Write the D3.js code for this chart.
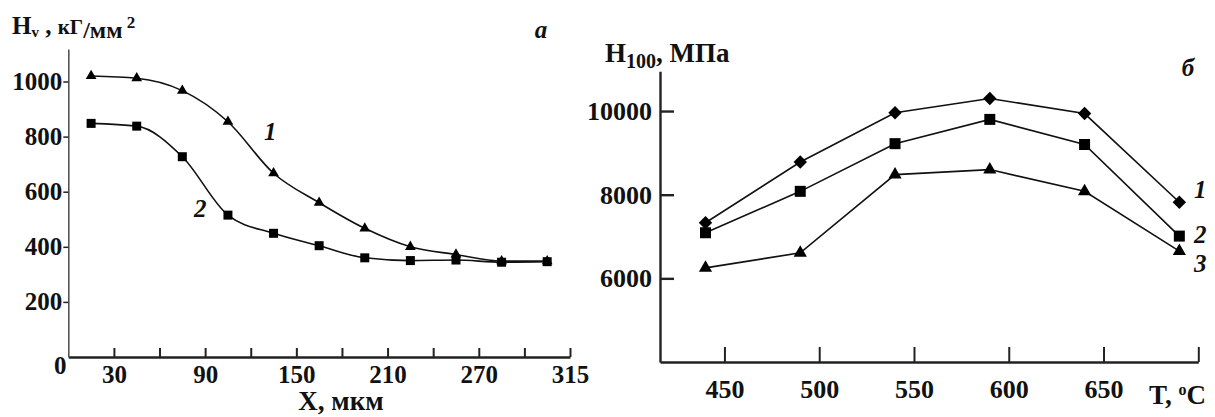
<!DOCTYPE html>
<html>
<head>
<meta charset="utf-8">
<script src="https://cdn.jsdelivr.net/npm/d3@7"></script>
<style>
  body { margin: 0; background: #fff; }
  svg text { font-family: "Liberation Serif", "Times New Roman", serif; font-weight: bold; fill: #111; }
</style>
</head>
<body>
<svg id="chart" width="1215" height="417"></svg>
<script>
// panel a: hardness vs depth
const depth = [15, 45, 75, 105, 135, 165, 195, 225, 255, 285, 315];
const hv1 = [1020, 1012, 967, 854, 667, 560, 467, 400, 372, 348, 348];
const hv2 = [848, 838, 727, 515, 449, 404, 360, 350, 352, 344, 346];
const depthTicks = [30, 60, 90, 120, 150, 180, 210, 240, 270, 300, 330];
const depthLabels = {30: "30", 90: "90", 150: "150", 210: "210", 270: "270", 330: "315"};
const hvTicks = [200, 400, 600, 800, 1000];

// panel б: hardness vs temperature
const temp = [440, 490, 540, 590, 640, 690];
const h1 = [7330, 8780, 9960, 10300, 9940, 7820];
const h2 = [7090, 8080, 9220, 9800, 9200, 7010];
const h3 = [6250, 6610, 8480, 8600, 8080, 6650];
const tempTicks = [450, 500, 550, 600, 650, 700];
const hTicks = [6000, 8000, 10000];

const svg = d3.select("svg#chart");
svg.append("rect").attr("width", 1215).attr("height", 417).attr("fill", "#fff");

function styleAxis(g, size) {
  g.selectAll("text")
    .style("font-family", '"Liberation Serif", serif')
    .style("font-weight", "bold")
    .style("font-size", size + "px")
    .attr("fill", "#111");
  g.selectAll("line").attr("stroke", "#222");
  g.select(".domain").attr("stroke", "#222");
}

// ---------- panel a ----------
const xL = d3.scaleLinear().domain([0, 330]).range([68.3, 570]);
const yL = d3.scaleLinear().domain([0, 1118]).range([357, 49]);

const axL = svg.append("g")
    .attr("transform", "translate(0," + yL(0) + ")")
    .call(d3.axisBottom(xL)
      .tickValues(depthTicks)
      .tickSizeInner(-9).tickSizeOuter(0).tickPadding(8)
      .tickFormat(d => depthLabels[d] || ""));
styleAxis(axL, 25);
axL.select(".domain").attr("stroke-width", 2.6);
axL.selectAll(".tick line").attr("stroke-width", 2);

const ayL = svg.append("g")
    .attr("transform", "translate(" + xL(0) + ",0)")
    .call(d3.axisLeft(yL)
      .tickValues(hvTicks)
      .tickSizeInner(5).tickSizeOuter(0).tickPadding(1)
      .tickFormat(d3.format("d")));
styleAxis(ayL, 25);
ayL.select(".domain").attr("stroke-width", 1.6).attr("stroke", "#555");
ayL.selectAll(".tick line").attr("stroke-width", 1.5);

svg.append("text").attr("x", xL(0) - 8).attr("y", yL(0) + 17)
  .attr("text-anchor", "middle").style("font-size", "25px").text("0");

const lineL = d3.line()
    .x((d, i) => xL(depth[i]))
    .y(d => yL(d))
    .curve(d3.curveMonotoneX);

[hv1, hv2].forEach(s => {
  svg.append("path").attr("d", lineL(s))
    .attr("fill", "none").attr("stroke", "#111").attr("stroke-width", 1.6);
});

svg.append("g").selectAll("path").data(hv1).join("path")
  .attr("transform", (d, i) => "translate(" + xL(depth[i]) + "," + yL(d) + ")")
  .attr("d", d3.symbol(d3.symbolTriangle, 50))
  .attr("fill", "#000");
svg.append("g").selectAll("path").data(hv2).join("path")
  .attr("transform", (d, i) => "translate(" + xL(depth[i]) + "," + yL(d) + ")")
  .attr("d", d3.symbol(d3.symbolSquare, 81))
  .attr("fill", "#000");

const titleL = svg.append("text").attr("x", 12).attr("y", 34).style("font-size", "25px");
titleL.append("tspan").text("H");
titleL.append("tspan").attr("dy", 3).style("font-size", "15px").text("v");
titleL.append("tspan").attr("dy", -3).text(" , ");
titleL.append("tspan").style("font-size", "21px").text("кГ");
titleL.append("tspan").attr("dy", 4).style("font-size", "24px").text("/мм");
titleL.append("tspan").attr("dy", -10).style("font-size", "17px").text(" 2");

svg.append("text").attr("x", 264).attr("y", 140).style("font-size", "25px")
  .style("font-style", "italic").text("1");
svg.append("text").attr("x", 194).attr("y", 217).style("font-size", "25px")
  .style("font-style", "italic").text("2");
svg.append("text").attr("x", 541).attr("y", 38).attr("text-anchor", "middle")
  .style("font-size", "25px").style("font-style", "italic").text("a");

svg.append("text").attr("x", 341).attr("y", 410).attr("text-anchor", "middle")
  .style("font-size", "27px").text("X, мкм");

// ---------- panel б ----------
const xR = d3.scaleLinear().domain([416, 700]).range([660, 1198.3]);
const yR = d3.scaleLinear().domain([4000, 10950]).range([362, 71.3]);

const axR = svg.append("g")
    .attr("transform", "translate(0," + yR(4000) + ")")
    .call(d3.axisBottom(xR)
      .tickValues(tempTicks)
      .tickSizeInner(-15).tickSizeOuter(0).tickPadding(18)
      .tickFormat(d => d === 700 ? "" : d));
styleAxis(axR, 26);
axR.select(".domain").attr("stroke-width", 2.6);
axR.selectAll(".tick line").attr("stroke-width", 2);

const ayR = svg.append("g")
    .attr("transform", "translate(" + xR(416) + ",0)")
    .call(d3.axisLeft(yR)
      .tickValues(hTicks)
      .tickSizeInner(-14).tickSizeOuter(0).tickPadding(8)
      .tickFormat(d3.format("d")));
styleAxis(ayR, 26);
ayR.select(".domain").attr("stroke-width", 2.4);
ayR.selectAll(".tick line").attr("stroke-width", 2.4);

const lineR = d3.line()
    .x((d, i) => xR(temp[i]))
    .y(d => yR(d));

[h1, h2, h3].forEach(s => {
  svg.append("path").attr("d", lineR(s))
    .attr("fill", "none").attr("stroke", "#111").attr("stroke-width", 1.6);
});

svg.append("g").selectAll("path").data(h1).join("path")
  .attr("transform", (d, i) => "translate(" + xR(temp[i]) + "," + yR(d) + ") rotate(45)")
  .attr("d", d3.symbol(d3.symbolSquare, 90))
  .attr("fill", "#000");
svg.append("g").selectAll("path").data(h2).join("path")
  .attr("transform", (d, i) => "translate(" + xR(temp[i]) + "," + yR(d) + ")")
  .attr("d", d3.symbol(d3.symbolSquare, 121))
  .attr("fill", "#000");
svg.append("g").selectAll("path").data(h3).join("path")
  .attr("transform", (d, i) => "translate(" + xR(temp[i]) + "," + yR(d) + ")")
  .attr("d", d3.symbol(d3.symbolTriangle, 75))
  .attr("fill", "#000");

const titleR = svg.append("text").attr("x", 605).attr("y", 62).style("font-size", "27px");
titleR.append("tspan").text("H");
titleR.append("tspan").attr("dy", 6).style("font-size", "20px").text("100");
titleR.append("tspan").attr("dy", -6).text(", МПа");

svg.append("text").attr("x", 1188).attr("y", 76).attr("text-anchor", "middle")
  .style("font-size", "25px").style("font-style", "italic").text("б");
[["1", 198], ["2", 243], ["3", 272]].forEach(([t, y]) => {
  svg.append("text").attr("x", 1194).attr("y", y)
    .style("font-size", "25px").style("font-style", "italic").text(t);
});

const tLab = svg.append("text").attr("x", 1149).attr("y", 404).style("font-size", "27px");
tLab.append("tspan").text("T, ");
tLab.append("tspan").attr("dy", -9).style("font-size", "16px").text("o");
tLab.append("tspan").attr("dy", 9).text("C");
</script>
</body>
</html>
